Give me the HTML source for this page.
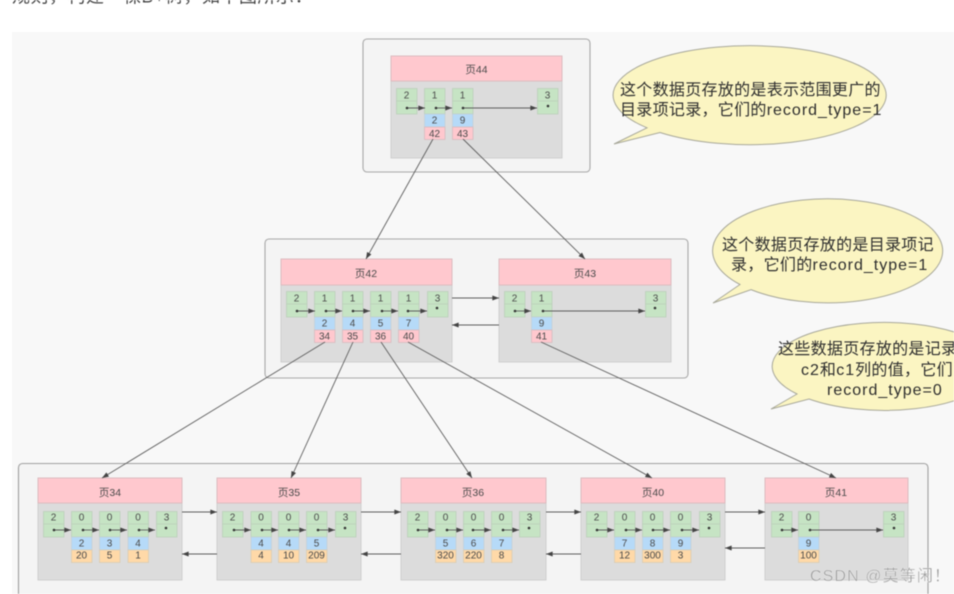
<!DOCTYPE html>
<html lang="zh"><head><meta charset="utf-8"><title>B+树</title>
<style>
html,body{margin:0;padding:0;background:#fff;width:954px;height:594px;overflow:hidden}
svg{display:block;font-family:"Liberation Sans","Noto Sans CJK SC",sans-serif;filter:blur(.4px)}
.d{font-size:10px;fill:#4a4a4a;text-anchor:middle}
.h{font-size:10.5px;fill:#4a4a4a;text-anchor:middle}
.b{font-size:16px;fill:#2e2e2e;letter-spacing:.3px}
.b tspan{letter-spacing:1px}
.l{stroke:#5e5e5e;stroke-width:.9;fill:none}
.a{marker-end:url(#ar)}
.dot{fill:#333}
</style></head><body>
<svg width="954" height="594" viewBox="0 0 954 594" xmlns="http://www.w3.org/2000/svg">
<defs>
<marker id="ar" viewBox="0 0 8 6" refX="8" refY="3" markerWidth="7" markerHeight="5" markerUnits="userSpaceOnUse" orient="auto"><path d="M0 0L8 3L0 6Z" fill="#444"/></marker>
<g id="k"><rect x=".5" y=".5" width="20.5" height="12.5" fill="#c6e4c4" stroke="#bcd0bb" stroke-width=".8"/><rect x=".5" y="13" width="20.5" height="13" fill="#c6e4c4" stroke="#bcd0bb" stroke-width=".8"/></g>
<g id="bl"><rect x=".5" y="26" width="20.5" height="13" fill="#b6daf8" stroke="#c4ccd2" stroke-width=".6"/></g>
<g id="pk"><rect x=".5" y="39" width="20.5" height="12.5" fill="#ffc8ce" stroke="#d6bcc0" stroke-width=".8"/></g>
<g id="or"><rect x=".5" y="39" width="20.5" height="12.5" fill="#ffd9a8" stroke="#d9ccb5" stroke-width=".8"/></g>
</defs>
<text x="12" y="2.500" font-size="18" fill="#444" letter-spacing=".5">规则，构建一棵B+树，如下图所示：</text>
<rect x="12" y="32" width="942" height="562" fill="#f8f8f8"/>

<!-- outer boxes -->
<rect x="363" y="39" width="227" height="133" rx="4" fill="#f4f4f4" stroke="#a8a8a8" stroke-width="1.1"/>
<rect x="265" y="239" width="423" height="139" rx="4" fill="#f4f4f4" stroke="#a8a8a8" stroke-width="1.1"/>
<rect x="18.500" y="463.500" width="909.500" height="150" rx="4" fill="#f4f4f4" stroke="#a0a0a0" stroke-width="1.1"/>

<!-- page 44 -->
<rect x="391" y="56" width="171" height="102" fill="#dcdcdc" stroke="#cfcfcf"/>
<rect x="391" y="56" width="171" height="25" fill="#ffc8ce" stroke="#dcbcc0"/>
<text class="h" x="476.500" y="73">页44</text>
<use href="#k" x="396" y="88"/><use href="#k" x="424" y="88"/><use href="#k" x="452" y="88"/><use href="#k" x="537" y="88"/>
<use href="#bl" x="424" y="88"/><use href="#pk" x="424" y="88"/><use href="#bl" x="452" y="88"/><use href="#pk" x="452" y="88"/>
<text class="d" x="406.500" y="98.500">2</text><text class="d" x="434.500" y="98.500">1</text><text class="d" x="462.500" y="98.500">1</text><text class="d" x="547.500" y="98.500">3</text>
<text class="d" x="434.500" y="123.500">2</text><text class="d" x="462.500" y="123.500">9</text>
<text class="d" x="434.500" y="137">42</text><text class="d" x="462.500" y="137">43</text>
<path class="l a" d="M407 108H425"/><path class="l a" d="M436 108H452"/><path class="l a" d="M463 108H537"/>
<circle class="dot" cx="407" cy="108" r="1.300"/><circle class="dot" cx="436" cy="108" r="1.300"/><circle class="dot" cx="463" cy="108" r="1.300"/><circle class="dot" cx="548" cy="106" r="1.300"/>

<!-- page 42 -->
<rect x="281" y="259" width="171" height="103" fill="#dcdcdc" stroke="#cfcfcf"/>
<rect x="281" y="259" width="171" height="26" fill="#ffc8ce" stroke="#dcbcc0"/>
<text class="h" x="366" y="277">页42</text>
<use href="#k" x="286" y="291"/><use href="#k" x="314" y="291"/><use href="#k" x="342" y="291"/><use href="#k" x="370" y="291"/><use href="#k" x="398" y="291"/><use href="#k" x="427" y="291"/>
<use href="#bl" x="314" y="291"/><use href="#pk" x="314" y="291"/><use href="#bl" x="342" y="291"/><use href="#pk" x="342" y="291"/><use href="#bl" x="370" y="291"/><use href="#pk" x="370" y="291"/><use href="#bl" x="398" y="291"/><use href="#pk" x="398" y="291"/>
<text class="d" x="296.500" y="301.500">2</text><text class="d" x="324.500" y="301.500">1</text><text class="d" x="352.500" y="301.500">1</text><text class="d" x="380.500" y="301.500">1</text><text class="d" x="408.500" y="301.500">1</text><text class="d" x="437.500" y="301.500">3</text>
<text class="d" x="324.500" y="326.500">2</text><text class="d" x="352.500" y="326.500">4</text><text class="d" x="380.500" y="326.500">5</text><text class="d" x="408.500" y="326.500">7</text>
<text class="d" x="324.500" y="339.500">34</text><text class="d" x="352.500" y="339.500">35</text><text class="d" x="380.500" y="339.500">36</text><text class="d" x="408.500" y="339.500">40</text>
<path class="l a" d="M297 311H315"/><path class="l a" d="M326 311H342"/><path class="l a" d="M353 311H370"/><path class="l a" d="M382 311H398"/><path class="l a" d="M408 311H427"/>
<circle class="dot" cx="297" cy="311" r="1.300"/><circle class="dot" cx="326" cy="311" r="1.300"/><circle class="dot" cx="353" cy="311" r="1.300"/><circle class="dot" cx="382" cy="311" r="1.300"/><circle class="dot" cx="408" cy="311" r="1.300"/><circle class="dot" cx="437" cy="308" r="1.300"/>

<!-- page 43 -->
<rect x="499" y="259" width="172" height="103" fill="#dcdcdc" stroke="#cfcfcf"/>
<rect x="499" y="259" width="172" height="26" fill="#ffc8ce" stroke="#dcbcc0"/>
<text class="h" x="585" y="277">页43</text>
<use href="#k" x="504" y="291"/><use href="#k" x="531" y="291"/><use href="#k" x="645" y="291"/>
<use href="#bl" x="531" y="291"/><use href="#pk" x="531" y="291"/>
<text class="d" x="514.500" y="301.500">2</text><text class="d" x="541.500" y="301.500">1</text><text class="d" x="655.500" y="301.500">3</text>
<text class="d" x="541.500" y="326.500">9</text><text class="d" x="541.500" y="339.500">41</text>
<path class="l a" d="M515 311H531"/><path class="l a" d="M543 311H645"/>
<circle class="dot" cx="515" cy="311" r="1.300"/><circle class="dot" cx="543" cy="311" r="1.300"/><circle class="dot" cx="655" cy="308" r="1.300"/>

<!-- page 34 -->
<rect x="38" y="478" width="144" height="102" fill="#dcdcdc" stroke="#cfcfcf"/>
<rect x="38" y="478" width="144" height="25" fill="#ffc8ce" stroke="#dcbcc0"/>
<text class="h" x="110" y="496">页34</text>
<use href="#k" x="43" y="511"/><use href="#k" x="71" y="511"/><use href="#k" x="99" y="511"/><use href="#k" x="127.500" y="511"/><use href="#k" x="156" y="511"/>
<use href="#bl" x="71" y="511"/><use href="#or" x="71" y="511"/><use href="#bl" x="99" y="511"/><use href="#or" x="99" y="511"/><use href="#bl" x="127.500" y="511"/><use href="#or" x="127.500" y="511"/>
<text class="d" x="53.500" y="520.500">2</text><text class="d" x="81.500" y="520.500">0</text><text class="d" x="109.500" y="520.500">0</text><text class="d" x="138" y="520.500">0</text><text class="d" x="166.500" y="520.500">3</text>
<text class="d" x="81.500" y="546.500">2</text><text class="d" x="109.500" y="546.500">3</text><text class="d" x="138" y="546.500">4</text>
<text class="d" x="81.500" y="558.500">20</text><text class="d" x="109.500" y="558.500">5</text><text class="d" x="138" y="558.500">1</text>
<path class="l a" d="M54 530H71"/><path class="l a" d="M83 530H99"/><path class="l a" d="M110 530H127"/><path class="l a" d="M139 530H155"/>
<circle class="dot" cx="54" cy="530" r="1.300"/><circle class="dot" cx="83" cy="530" r="1.300"/><circle class="dot" cx="110" cy="530" r="1.300"/><circle class="dot" cx="139" cy="530" r="1.300"/><circle class="dot" cx="166" cy="528" r="1.300"/>

<!-- page 35 -->
<rect x="217" y="478" width="144" height="102" fill="#dcdcdc" stroke="#cfcfcf"/>
<rect x="217" y="478" width="144" height="25" fill="#ffc8ce" stroke="#dcbcc0"/>
<text class="h" x="289" y="496">页35</text>
<use href="#k" x="222" y="511"/><use href="#k" x="250.500" y="511"/><use href="#k" x="278" y="511"/><use href="#k" x="306" y="511"/><use href="#k" x="335" y="511"/>
<use href="#bl" x="250.500" y="511"/><use href="#or" x="250.500" y="511"/><use href="#bl" x="278" y="511"/><use href="#or" x="278" y="511"/><use href="#bl" x="306" y="511"/><use href="#or" x="306" y="511"/>
<text class="d" x="232.500" y="520.500">2</text><text class="d" x="261" y="520.500">0</text><text class="d" x="288.500" y="520.500">0</text><text class="d" x="316.500" y="520.500">0</text><text class="d" x="345.500" y="520.500">3</text>
<text class="d" x="261" y="546.500">4</text><text class="d" x="288.500" y="546.500">4</text><text class="d" x="316.500" y="546.500">5</text>
<text class="d" x="261" y="558.500">4</text><text class="d" x="288.500" y="558.500">10</text><text class="d" x="316.500" y="558.500">209</text>
<path class="l a" d="M234 530H251"/><path class="l a" d="M262 530H278"/><path class="l a" d="M289 530H306"/><path class="l a" d="M318 530H335"/>
<circle class="dot" cx="234" cy="530" r="1.300"/><circle class="dot" cx="262" cy="530" r="1.300"/><circle class="dot" cx="289" cy="530" r="1.300"/><circle class="dot" cx="318" cy="530" r="1.300"/><circle class="dot" cx="345" cy="528" r="1.300"/>

<!-- page 36 -->
<rect x="401" y="478" width="145" height="102" fill="#dcdcdc" stroke="#cfcfcf"/>
<rect x="401" y="478" width="145" height="25" fill="#ffc8ce" stroke="#dcbcc0"/>
<text class="h" x="473" y="496">页36</text>
<use href="#k" x="407" y="511"/><use href="#k" x="435" y="511"/><use href="#k" x="463" y="511"/><use href="#k" x="491" y="511"/><use href="#k" x="519" y="511"/>
<use href="#bl" x="435" y="511"/><use href="#or" x="435" y="511"/><use href="#bl" x="463" y="511"/><use href="#or" x="463" y="511"/><use href="#bl" x="491" y="511"/><use href="#or" x="491" y="511"/>
<text class="d" x="417.500" y="520.500">2</text><text class="d" x="445.500" y="520.500">0</text><text class="d" x="473.500" y="520.500">0</text><text class="d" x="501.500" y="520.500">0</text><text class="d" x="529.500" y="520.500">3</text>
<text class="d" x="445.500" y="546.500">5</text><text class="d" x="473.500" y="546.500">6</text><text class="d" x="501.500" y="546.500">7</text>
<text class="d" x="445.500" y="558.500">320</text><text class="d" x="473.500" y="558.500">220</text><text class="d" x="501.500" y="558.500">8</text>
<path class="l a" d="M418 530H435"/><path class="l a" d="M447 530H463"/><path class="l a" d="M473 530H491"/><path class="l a" d="M503 530H519"/>
<circle class="dot" cx="418" cy="530" r="1.300"/><circle class="dot" cx="447" cy="530" r="1.300"/><circle class="dot" cx="473" cy="530" r="1.300"/><circle class="dot" cx="503" cy="530" r="1.300"/><circle class="dot" cx="529" cy="528" r="1.300"/>

<!-- page 40 -->
<rect x="581" y="478" width="144" height="102" fill="#dcdcdc" stroke="#cfcfcf"/>
<rect x="581" y="478" width="144" height="25" fill="#ffc8ce" stroke="#dcbcc0"/>
<text class="h" x="653" y="496">页40</text>
<use href="#k" x="586" y="511"/><use href="#k" x="614" y="511"/><use href="#k" x="642" y="511"/><use href="#k" x="670" y="511"/><use href="#k" x="699" y="511"/>
<use href="#bl" x="614" y="511"/><use href="#or" x="614" y="511"/><use href="#bl" x="642" y="511"/><use href="#or" x="642" y="511"/><use href="#bl" x="670" y="511"/><use href="#or" x="670" y="511"/>
<text class="d" x="596.500" y="520.500">2</text><text class="d" x="624.500" y="520.500">0</text><text class="d" x="652.500" y="520.500">0</text><text class="d" x="680.500" y="520.500">0</text><text class="d" x="709.500" y="520.500">3</text>
<text class="d" x="624.500" y="546.500">7</text><text class="d" x="652.500" y="546.500">8</text><text class="d" x="680.500" y="546.500">9</text>
<text class="d" x="624.500" y="558.500">12</text><text class="d" x="652.500" y="558.500">300</text><text class="d" x="680.500" y="558.500">3</text>
<path class="l a" d="M597 530H614"/><path class="l a" d="M626 530H642"/><path class="l a" d="M653 530H670"/><path class="l a" d="M682 530H699"/>
<circle class="dot" cx="597" cy="530" r="1.300"/><circle class="dot" cx="626" cy="530" r="1.300"/><circle class="dot" cx="653" cy="530" r="1.300"/><circle class="dot" cx="682" cy="530" r="1.300"/><circle class="dot" cx="709" cy="528" r="1.300"/>

<!-- page 41 -->
<rect x="765" y="478" width="143" height="102" fill="#dcdcdc" stroke="#cfcfcf"/>
<rect x="765" y="478" width="143" height="25" fill="#ffc8ce" stroke="#dcbcc0"/>
<text class="h" x="836" y="496">页41</text>
<use href="#k" x="771" y="511"/><use href="#k" x="798" y="511"/><use href="#k" x="883" y="511"/>
<use href="#bl" x="798" y="511"/><use href="#or" x="798" y="511"/>
<text class="d" x="781.500" y="520.500">2</text><text class="d" x="808.500" y="520.500">0</text><text class="d" x="893.500" y="520.500">3</text>
<text class="d" x="808.500" y="546.500">9</text><text class="d" x="808.500" y="558.500">100</text>
<path class="l a" d="M782 530H798"/><path class="l a" d="M810 530H883"/>
<circle class="dot" cx="782" cy="530" r="1.300"/><circle class="dot" cx="810" cy="530" r="1.300"/><circle class="dot" cx="894" cy="528" r="1.300"/>

<!-- connectors -->
<path class="l a" d="M433 139L366 259"/><path class="l a" d="M463 139L585 259"/>
<path class="l a" d="M325 342L102 478"/><path class="l a" d="M353 342L291 478"/><path class="l a" d="M381 342L472 478"/><path class="l a" d="M408 342L652 478"/><path class="l a" d="M541 342L836 478"/>
<path class="l a" d="M452 298H499"/><path class="l a" d="M499 325H452"/>
<path class="l a" d="M182 512H217"/><path class="l a" d="M361 512H401"/><path class="l a" d="M546 512H581"/><path class="l a" d="M725 512H765"/>
<path class="l a" d="M217 554H182"/><path class="l a" d="M401 554H361"/><path class="l a" d="M581 554H546"/><path class="l a" d="M765 548H725"/>

<!-- bubbles -->
<path d="M647 127.800L614 144L660 132.500A136.500 49.500 0 1 0 647 127.800Z" fill="#fbf5c2" stroke="#a8a89a"/>
<text class="b" x="620" y="95">这个数据页存放的是表示范围更广的</text>
<text class="b" x="620" y="115">目录项记录，它们的<tspan>record_type=1</tspan></text>
<path d="M740 284.500L713 303L751 289.600A115 52 0 1 0 740 284.500Z" fill="#fbf5c2" stroke="#a8a89a"/>
<text class="b" x="722" y="250">这个数据页存放的是目录项记</text>
<text class="b" x="731" y="270">录，它们的<tspan>record_type=1</tspan></text>
<path d="M797 394L771 409L809 399A112 44 0 1 0 797 394Z" fill="#fbf5c2" stroke="#a8a89a"/>
<text class="b" x="778" y="354">这些数据页存放的是记录的</text>
<text class="b" x="801" y="375"><tspan>c2</tspan>和<tspan>c1</tspan>列的值，它们的</text>
<text class="b" x="827" y="395"><tspan>record_type=0</tspan></text>

<text x="810" y="581" font-size="16" fill="#9a9a9a" stroke="#fff" stroke-width=".25" letter-spacing="1.100">CSDN @莫等闲！</text>
</svg>
</body></html>
